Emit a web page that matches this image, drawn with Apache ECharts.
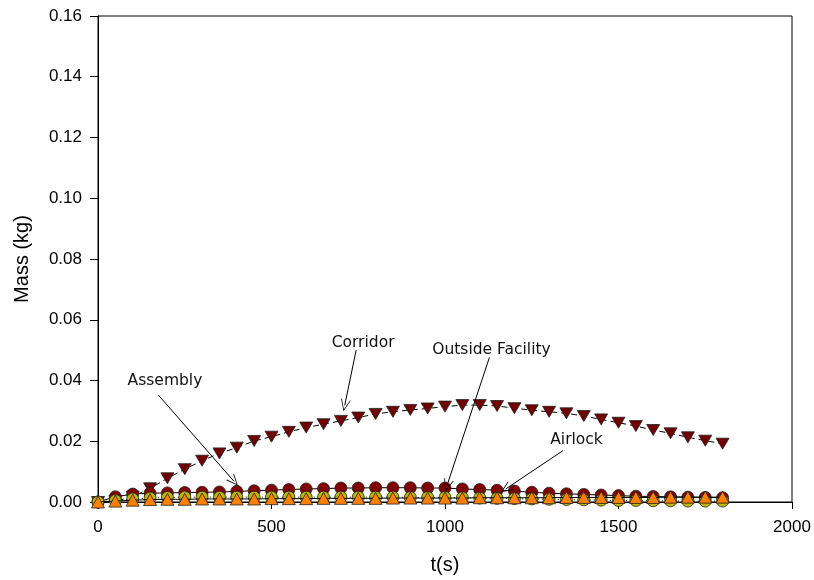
<!DOCTYPE html>
<html>
<head>
<meta charset="utf-8">
<script src="https://cdn.jsdelivr.net/npm/echarts@6/dist/echarts.min.js"></script>
<style>
html,body{margin:0;padding:0;background:#fff;}
#chart{width:814px;height:580px;}
</style>
</head>
<body>
<div id="chart"></div>
<script>
// Time points (s)
var times = [0,50,100,150,200,250,300,350,400,450,500,550,600,650,700,750,800,850,900,950,1000,1050,1100,1150,1200,1250,1300,1350,1400,1450,1500,1550,1600,1650,1700,1750,1800];
// Corridor (down triangles)
var corridor = [0,0.0003,0.0018,0.0045,0.0078,0.0108,0.0136,0.0160,0.0179,0.0201,0.0215,0.0231,0.0245,0.0256,0.0267,0.0278,0.0290,0.0297,0.0303,0.0308,0.0314,0.0319,0.0319,0.0316,0.0309,0.0302,0.0297,0.0292,0.0283,0.0272,0.0261,0.0250,0.0237,0.0226,0.0213,0.0202,0.0192];
// Assembly (dark red circles)
var assembly = [0,0.0017,0.0026,0.0029,0.0030,0.0031,0.0032,0.0033,0.0035,0.0037,0.0039,0.0041,0.0043,0.0044,0.0046,0.0046,0.0047,0.0047,0.0047,0.0046,0.0046,0.0043,0.0041,0.0039,0.0036,0.0032,0.0029,0.0027,0.0025,0.0023,0.0021,0.0019,0.0018,0.0017,0.0016,0.0015,0.0014];
// Outside Facility (yellow-green circles)
var outside = [0,0.0005,0.0010,0.0013,0.0015,0.0016,0.0016,0.0016,0.0016,0.0016,0.0016,0.0016,0.0016,0.0016,0.0016,0.0016,0.0016,0.0016,0.0015,0.0015,0.0015,0.0014,0.0013,0.0012,0.0011,0.0010,0.0009,0.0008,0.0007,0.0006,0.0005,0.0005,0.0004,0.0004,0.0003,0.0003,0.0003];
// Airlock (orange up triangles)
var airlock = [0,0.0003,0.0006,0.0008,0.0009,0.0009,0.0010,0.0010,0.0010,0.0010,0.0011,0.0011,0.0011,0.0012,0.0012,0.0012,0.0012,0.0013,0.0013,0.0013,0.0013,0.0013,0.0014,0.0014,0.0014,0.0014,0.0014,0.0015,0.0015,0.0015,0.0015,0.0015,0.0015,0.0016,0.0016,0.0016,0.0016];
// Tick labels
var xTicks = [0,500,1000,1500,2000];
var yTicks = [0,0.02,0.04,0.06,0.08,0.10,0.12,0.14,0.16];
// Annotations: label, label position, arrow start, arrow tip
var annLabels = ['Assembly','Corridor','Outside Facility','Airlock'];
var annText = [[193,0.0398],[764,0.0523],[1134,0.0500],[1379,0.0204]];
var annStart = [[174,0.0352],[744,0.0500],[1128,0.0476],[1340,0.0169]];
var annTip = [[392,0.0068],[711,0.0318],[1006,0.0055],[1175,0.0043]];

function pairs(ys){ return times.map(function(t,i){ return [t, ys[i]]; }); }

var chevron = 'path://M0,0 L6,13 L5,13 L0,2.2 L-5,13 L-6,13 Z';

var chart = echarts.init(document.getElementById('chart'), null, {renderer:'canvas'});
var axisFont = {fontFamily:'Arial', fontSize:17, color:'#000'};
chart.setOption({
  animation:false,
  backgroundColor:'#fff',
  grid:{left:98, top:16, right:22, bottom:78, show:true, borderColor:'#000', borderWidth:1, backgroundColor:'transparent'},
  xAxis:{
    type:'value', min:xTicks[0], max:xTicks[xTicks.length-1], interval:500,
    name:'t(s)', nameLocation:'middle', nameGap:53,
    nameTextStyle:{fontFamily:'Arial', fontSize:20, color:'#000'},
    axisLine:{show:true, onZero:false, lineStyle:{color:'#000', width:1}},
    axisTick:{show:true, inside:false, length:7, lineStyle:{color:'#000'}},
    axisLabel:Object.assign({margin:17, formatter:function(v){return String(v);}}, axisFont),
    splitLine:{show:false}
  },
  yAxis:{
    type:'value', min:yTicks[0], max:yTicks[yTicks.length-1], interval:0.02,
    name:'Mass (kg)', nameLocation:'middle', nameGap:66,
    nameTextStyle:{fontFamily:'Arial', fontSize:20, color:'#000'},
    axisLine:{show:true, lineStyle:{color:'#000', width:1}},
    axisTick:{show:true, inside:false, length:8, lineStyle:{color:'#000'}},
    axisLabel:Object.assign({margin:16, formatter:function(v){return v.toFixed(2);}}, axisFont),
    splitLine:{show:false}
  },
  series:[
    {
      name:'Corridor', type:'line', data:pairs(corridor),
      symbol:'triangle', symbolRotate:180, symbolSize:[13,11],
      itemStyle:{color:'#6e0000', borderColor:'#222', borderWidth:0.8},
      lineStyle:{color:'#000', width:1, type:[6,4]},
      z:2,
      markLine:{
        silent:true, animation:false,
        symbol:['none', chevron], symbolSize:[10,12],
        lineStyle:{color:'#000', width:1, type:'solid'},
        label:{show:false},
        data: annStart.map(function(s,i){ return [{coord:s},{coord:annTip[i]}]; })
      },
      markPoint:{
        silent:true, animation:false,
        symbol:'circle', symbolSize:0,
        label:{show:true, position:'inside', formatter:'{b}', fontFamily:'DejaVu Sans', fontSize:15.5, color:'#111'},
        data: annLabels.map(function(n,i){ return {name:n, coord:annText[i]}; })
      }
    },
    {
      name:'Assembly', type:'line', data:pairs(assembly),
      symbol:'circle', symbolSize:12,
      itemStyle:{color:'#800000', borderColor:'#222', borderWidth:0.8},
      lineStyle:{color:'#000', width:1},
      z:3
    },
    {
      name:'Outside Facility', type:'line', data:pairs(outside),
      symbol:'circle', symbolSize:12,
      itemStyle:{color:'#b8b800', borderColor:'#222', borderWidth:0.8},
      lineStyle:{color:'#000', width:1, type:[1,3]},
      z:4
    },
    {
      name:'Airlock', type:'line', data:pairs(airlock),
      symbol:'triangle', symbolSize:[13,12],
      itemStyle:{color:'#ff8000', borderColor:'#222', borderWidth:0.8},
      lineStyle:{color:'#000', width:1},
      z:5
    }
  ]
});
</script>
</body>
</html>
